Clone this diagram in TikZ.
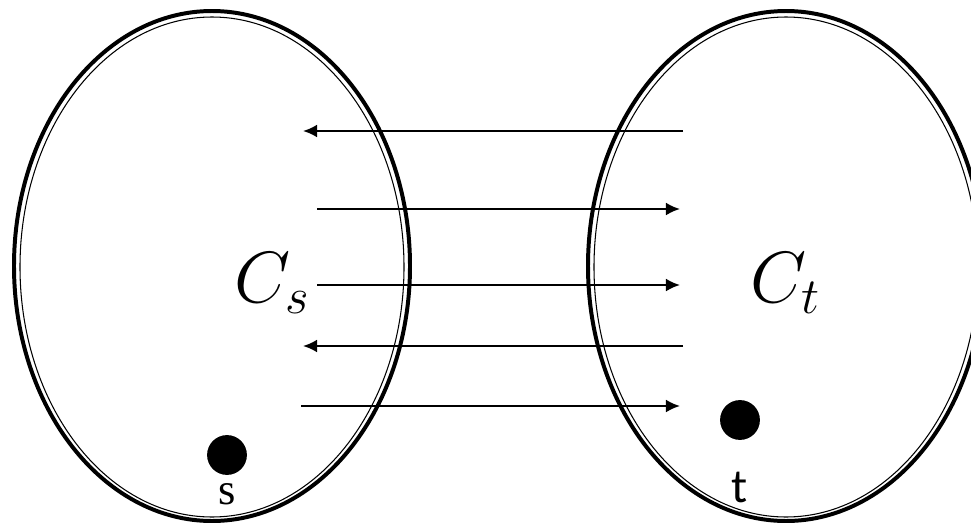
\RequirePackage{fix-cm}
\documentclass[tikz,border=0pt]{standalone}
\usepackage{amsmath}
\usepackage{fontspec}
\usetikzlibrary{arrows.meta, positioning}
\newfontfamily\labelserif{Liberation Serif}
\newfontfamily\labelsans{Carlito}
\tikzstyle{rim}=[draw, line width=3.4pt]
\tikzstyle{innerrim}=[draw, line width=0.9pt]
\tikzstyle{vertex}=[circle, fill=black, minimum size=34pt, inner sep=0pt]
\tikzstyle{setlabel}=[font=\fontsize{62}{70}\selectfont]

\begin{document}
\begin{tikzpicture}[x=0.03cm, y=-0.03cm, >={Latex[length=12pt,width=11pt]}]
    \useasboundingbox (0,0) rectangle (971,529);
    % the two sides of the cut
    \draw[rim] (212,266) ellipse (198 and 255);
    \draw[innerrim] (212,267) ellipse (192 and 250);
    \draw[rim] (786,266) ellipse (198 and 255);
    \draw[innerrim] (786,267) ellipse (192 and 250);
    \node[setlabel] (cs) at (272,283) {$C_s$};
    \node[setlabel] (ct) at (785,283) {$C_t$};
    \node[vertex] (sdot) at (227,455) {};
    \node[vertex] (tdot) at (740,420) {};
    \node[below=3pt of sdot, font=\labelserif, scale=3.8, inner sep=1pt] (s) {s};
    \node[below=22pt of tdot, font=\labelsans, scale=4.1, inner sep=1pt] (t) {t};
    % crossing edges
    \coordinate (r1) at (683,131);
    \coordinate (l1) at (303,131);
    \coordinate (l2) at (317,209);
    \coordinate (r2) at (680,209);
    \coordinate (l3) at (317,285);
    \coordinate (r3) at (680,285);
    \coordinate (r4) at (683,346);
    \coordinate (l4) at (303,346);
    \coordinate (l5) at (301,406);
    \coordinate (r5) at (680,406);
    \draw[->, line width=1.8pt] (r1) -- (l1);
    \draw[->, line width=1.8pt] (l2) -- (r2);
    \draw[->, line width=1.8pt] (l3) -- (r3);
    \draw[->, line width=1.8pt] (r4) -- (l4);
    \draw[->, line width=1.8pt] (l5) -- (r5);
\end{tikzpicture}
\end{document}
